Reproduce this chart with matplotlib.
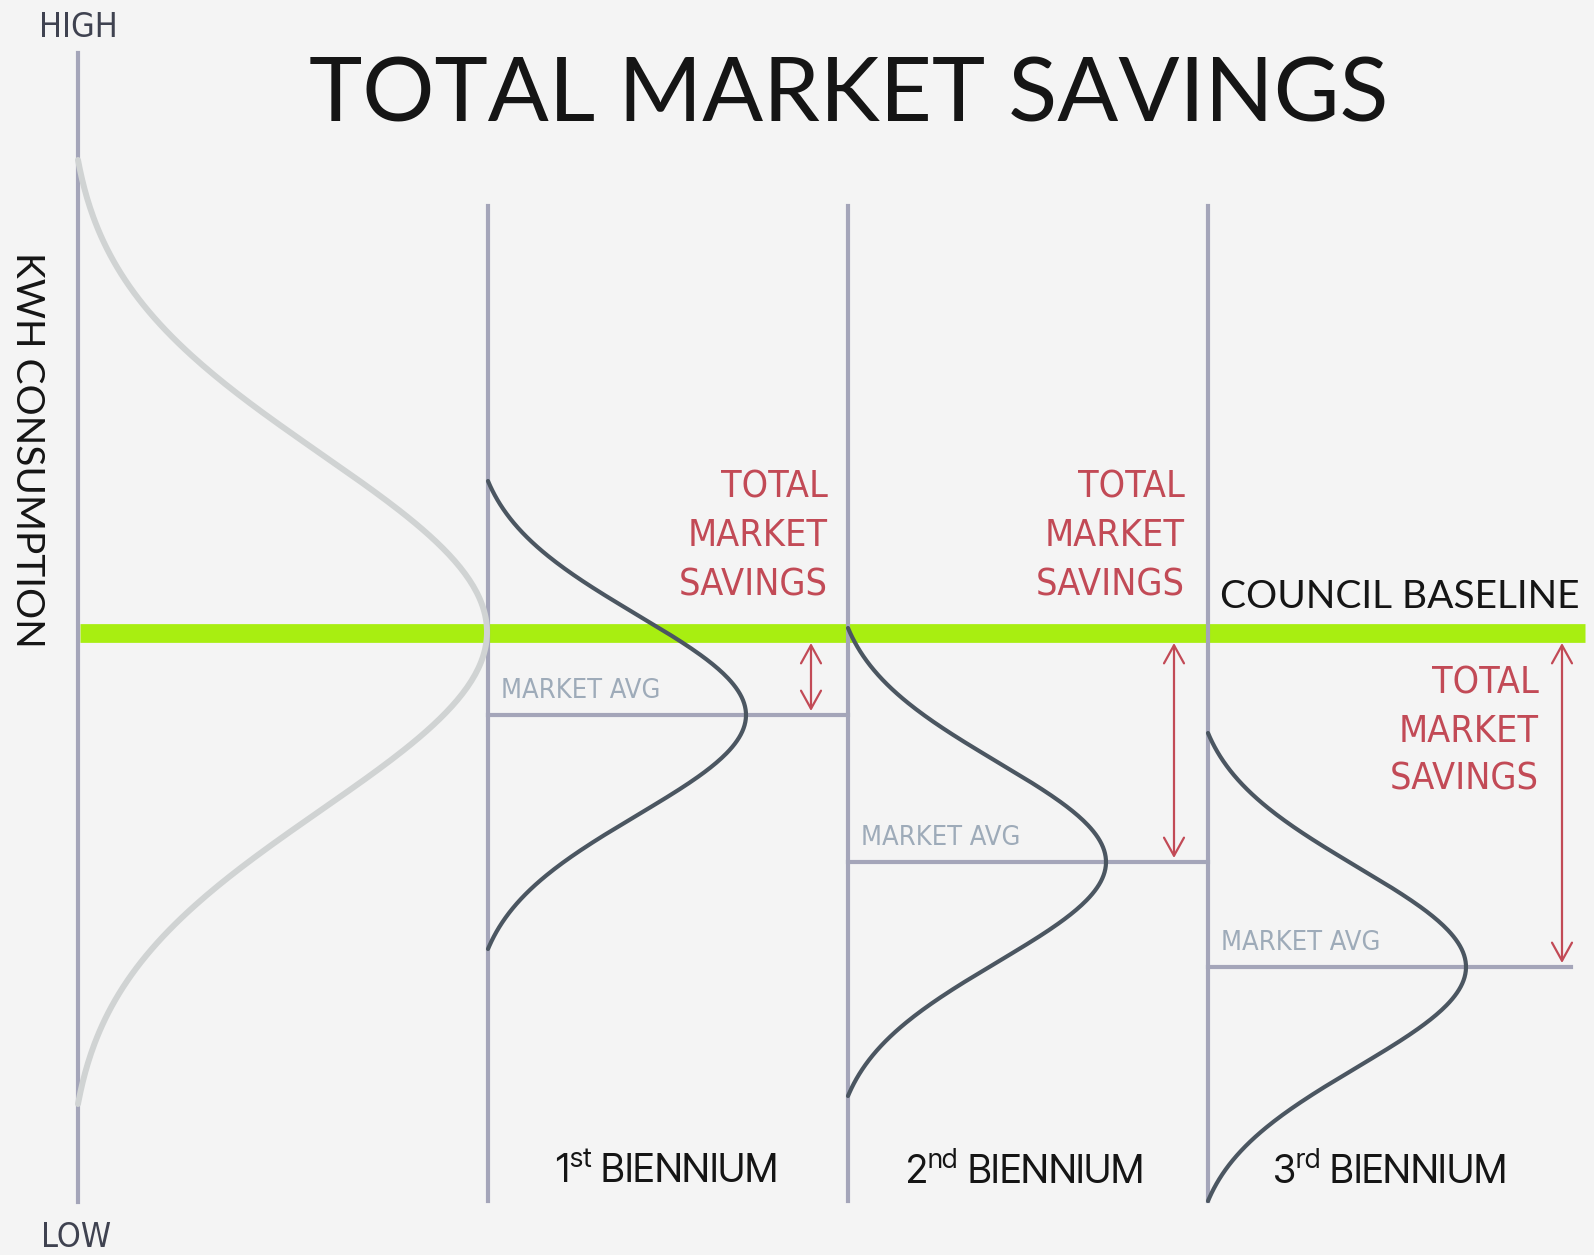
import numpy as np
import matplotlib
matplotlib.use("Agg")
import matplotlib.pyplot as plt

# Diagram data (drawing units, y grows downward = lower consumption)
periods = ["1$^{\\mathrm{st}}$ BIENNIUM", "2$^{\\mathrm{nd}}$ BIENNIUM", "3$^{\\mathrm{rd}}$ BIENNIUM"]
panel_edges = [488, 848, 1208, 1571]      # left edge of each biennium panel + right end
baseline = 633                            # council baseline consumption
market_avg = [715, 862, 967]              # market average for each biennium
start_avg = 632                           # market average before the programme
start_spread = 178
period_spread = 100
savings_label = ["TOTAL", "MARKET", "SAVINGS"]

# Colours
bg = "#f4f4f4"
lav = "#a4a5b9"
dark = "#4b5661"
pale = "#d0d3d3"
green = "#a8ee11"
red = "#c24a56"
avg_col = "#9eabb9"
ink = "#151515"

plt.rcParams["mathtext.fontset"] = "custom"
plt.rcParams["mathtext.rm"] = "Inter Tight"

fig = plt.figure(figsize=(15.94, 12.55), dpi=100)
fig.patch.set_facecolor(bg)
ax = fig.add_axes([0, 0, 1, 1])
ax.set_xlim(0, 1594)
ax.set_ylim(1255, 0)
ax.axis("off")


def bell(x0, mu, sd, half, amp):
    y = np.linspace(mu - half, mu + half, 300)
    g = np.exp(-0.5 * ((y - mu) / sd) ** 2)
    g_end = np.exp(-0.5 * (half / sd) ** 2)
    return x0 + amp * (g - g_end) / (1 - g_end), y


# baseline
ax.plot([80, 1585], [baseline, baseline], color=green, lw=13.5, solid_capstyle="butt", zorder=1)

# axis + panel separators
ax.plot([78, 78], [53, 1202], color=lav, lw=3, zorder=2)
for x in panel_edges[:3]:
    ax.plot([x, x], [206, 1201], color=lav, lw=3, zorder=2)

# market average lines
for i, m in enumerate(market_avg):
    ax.plot([panel_edges[i], panel_edges[i + 1]], [m, m], color=lav, lw=3, zorder=2)
    ax.text(panel_edges[i] + 13, m - 17, "MARKET AVG", family="DejaVu Sans", stretch="condensed",
            fontsize=19.5, color=avg_col, ha="left", va="baseline")

# starting distribution
bx, by = bell(78, start_avg, start_spread, 472, 409)
ax.plot(bx, by, color=pale, lw=4.3, solid_capstyle="round", zorder=3)

# distributions per biennium
for i, m in enumerate(market_avg):
    cx, cy = bell(panel_edges[i], m, period_spread, 234, 258)
    ax.plot(cx, cy, color=dark, lw=3, solid_capstyle="round", zorder=4)

# savings arrows
arrow_x = [811, 1174, 1562]
for x, m in zip(arrow_x, market_avg):
    ax.annotate("", xy=(x, m - 4), xytext=(x, 643),
                arrowprops=dict(arrowstyle="<->,head_length=1.3,head_width=0.72", color=red,
                                lw=1.6, shrinkA=0, shrinkB=0, mutation_scale=10), zorder=5)

# savings labels
label_right = [828, 1185, 1539]
label_base = [498, 498, 693]
for xr, yb in zip(label_right, label_base):
    for k, word in enumerate(savings_label):
        ax.text(xr, yb + k * 48.5, word, family="DejaVu Sans", stretch="condensed", fontsize=27,
                color=red, ha="right", va="baseline")

# biennium labels
label_cx = [666, 1024, 1389]
for cx, p in zip(label_cx, periods):
    ax.text(cx, 1183, p, family="Inter Tight", fontsize=28, color=ink, ha="center", va="baseline")

# titles and axis words
ax.text(849, 122, "TOTAL MARKET SAVINGS", family="Lato", fontsize=65, color=ink,
        ha="center", va="baseline")
ax.text(1400, 608, "COUNCIL BASELINE", family="Lato", fontsize=28, color=ink,
        ha="center", va="baseline")
ax.text(27, 450, "KWH CONSUMPTION", family="Lato", fontsize=28, color=ink,
        rotation=-90, ha="center", va="center")
ax.text(78, 37, "HIGH", family="DejaVu Sans", stretch="condensed", fontsize=24.5,
        color="#3f4250", ha="center", va="baseline")
ax.text(76, 1247, "LOW", family="DejaVu Sans", stretch="condensed", fontsize=24.5,
        color="#3f4250", ha="center", va="baseline")

fig.savefig("out.png", dpi=100, facecolor=fig.get_facecolor())
